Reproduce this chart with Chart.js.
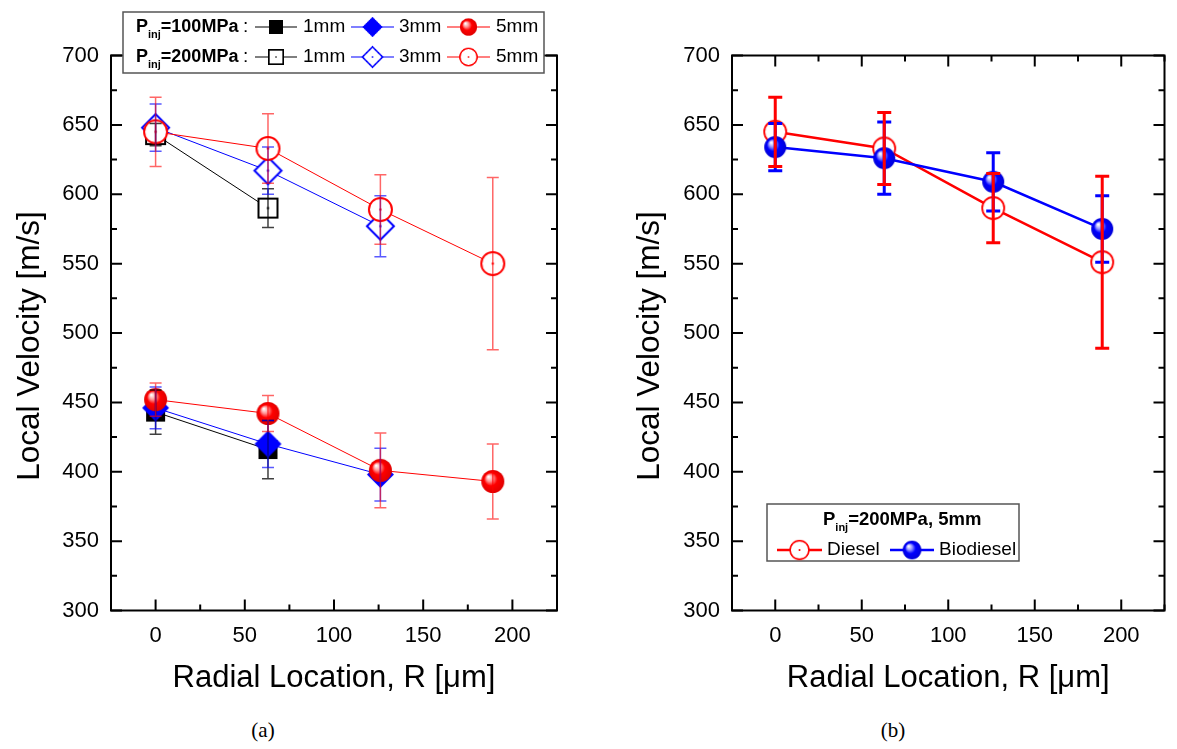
<!DOCTYPE html>
<html>
<head>
<meta charset="utf-8">
<script src="https://cdn.jsdelivr.net/npm/chart.js@4.4.1/dist/chart.umd.min.js"></script>
<style>
body { margin: 0; background: #fff; width: 1177px; height: 749px; position: relative; overflow: hidden; }
#wrapA { position: absolute; left: 0; top: 0; width: 590px; height: 700px; }
#wrapB { position: absolute; left: 620px; top: 0; width: 557px; height: 700px; }
.cap { position: absolute; top: 718px; transform: translateX(-50%); font-family: "Liberation Serif", "Times New Roman", serif; font-size: 21px; color: #000; }
</style>
</head>
<body>
<div id="wrapA"><canvas id="chartA" width="590" height="700"></canvas></div>
<div id="wrapB"><canvas id="chartB" width="557" height="700"></canvas></div>
<div class="cap" style="left:263px">(a)</div>
<div class="cap" style="left:893px">(b)</div>
<script>
// radial locations [um]
let radial = [0, 63, 126, 189];

// (a) Pinj = 100MPa
let p100_1mm = [443, 416];
let p100_1mm_err = [16, 21];
let p100_3mm = [446, 420, 398];
let p100_3mm_err = [15, 17, 19];
let p100_5mm = [452, 442, 401, 393];
let p100_5mm_err = [12, 13, 27, 27];

// (a) Pinj = 200MPa
let p200_1mm = [643, 590];
let p200_1mm_err = [8, 14];
let p200_3mm = [648, 617, 577];
let p200_3mm_err = [17, 17, 22];
let p200_5mm = [645, 633, 589, 550];
let p200_5mm_err = [25, 25, 25, 62];

// (b) Pinj = 200MPa, 5mm
let diesel = [645, 633, 590, 551];
let diesel_err = [25, 26, 25, 62];
let biodiesel = [634, 626, 609, 575];
let biodiesel_err = [17, 26, 21, 24];

let xTicks = [0, 50, 100, 150, 200];
let yTicks = [300, 350, 400, 450, 500, 550, 600, 650, 700];
let yTitle = 'Local Velocity [m/s]';

const FONT = '"Liberation Sans", Arial, sans-serif';
Chart.defaults.font.family = FONT;
Chart.defaults.color = '#000';

// marker images (used as pointStyle)
function makeMarker(shape, color, filled, size, lw) {
    let pad = 3;
    let c = document.createElement('canvas');
    c.width = c.height = Math.ceil(size + pad * 2);
    let g = c.getContext('2d');
    let m = c.width / 2, r = size / 2;
    g.beginPath();
    if (shape === 'square') {
        g.rect(m - r, m - r, size, size);
    } else if (shape === 'diamond') {
        g.moveTo(m, m - r); g.lineTo(m + r, m); g.lineTo(m, m + r); g.lineTo(m - r, m); g.closePath();
    } else {
        g.arc(m, m, r, 0, Math.PI * 2);
    }
    if (shape === 'sphere') {
        let grad = g.createRadialGradient(m - r * 0.38, m - r * 0.42, r * 0.04, m, m, r);
        grad.addColorStop(0, '#ffffff');
        grad.addColorStop(0.28, color === '#ff0000' ? '#ff9090' : '#9090ff');
        grad.addColorStop(0.55, color);
        grad.addColorStop(1, color === '#ff0000' ? '#e00000' : '#0000d8');
        g.fillStyle = grad;
        g.fill();
    } else if (filled) {
        g.fillStyle = color;
        g.fill();
    } else {
        g.fillStyle = '#fff';
        g.fill();
        g.lineWidth = lw || 1.5;
        g.strokeStyle = color;
        g.stroke();
        g.fillStyle = color;
        g.fillRect(m - 1, m - 1, 2, 2);
    }
    return c;
}

let mk = {
    sqFill: makeMarker('square', '#000000', true, 19),
    diaFill: makeMarker('diamond', '#0000ff', true, 27),
    sphRed: makeMarker('sphere', '#ff0000', true, 23),
    sqOpen: makeMarker('square', '#000000', false, 19, 2),
    diaOpen: makeMarker('diamond', '#0000ff', false, 27, 2),
    cirRed: makeMarker('circle', '#ff0000', false, 23, 2),
    cirRedB: makeMarker('circle', '#ff0000', false, 22, 1.8),
    sphBlue: makeMarker('sphere', '#0000ff', true, 22)
};

function pts(vals) {
    return vals.map((v, i) => ({ x: radial[i], y: v }));
}

function series(label, vals, errs, color, errColor, marker, order, width) {
    return {
        label: label,
        data: pts(vals),
        errors: errs,
        errColor: errColor,
        showLine: true,
        borderColor: color,
        borderWidth: width,
        backgroundColor: color,
        pointStyle: marker,
        pointRadius: 10,
        order: order
    };
}

// error bars, drawn on top of the markers
const errorBars = {
    id: 'errorBars',
    afterDatasetsDraw(chart, args, opts) {
        let ctx = chart.ctx, ys = chart.scales.y;
        chart.data.datasets.forEach((ds, di) => {
            let meta = chart.getDatasetMeta(di);
            ctx.save();
            ctx.strokeStyle = ds.errColor;
            ctx.lineWidth = opts.width;
            meta.data.forEach((pt, i) => {
                let v = ds.data[i].y, e = ds.errors[i];
                let top = ys.getPixelForValue(v + e), bot = ys.getPixelForValue(v - e);
                ctx.beginPath();
                ctx.moveTo(pt.x, top); ctx.lineTo(pt.x, bot);
                ctx.moveTo(pt.x - opts.cap, top); ctx.lineTo(pt.x + opts.cap, top);
                ctx.moveTo(pt.x - opts.cap, bot); ctx.lineTo(pt.x + opts.cap, bot);
                ctx.stroke();
            });
            ctx.restore();
        });
    }
};

// box frame with inward ticks on four sides, plus the y title
const frame = {
    id: 'frame',
    afterDraw(chart) {
        let ctx = chart.ctx, a = chart.chartArea, x = chart.scales.x, y = chart.scales.y;
        ctx.save();
        ctx.strokeStyle = '#000';
        ctx.lineWidth = 2;
        ctx.strokeRect(a.left, a.top, a.right - a.left, a.bottom - a.top);
        ctx.beginPath();
        for (let v = x.min; v <= x.max; v += 25) {
            let px = x.getPixelForValue(v), len = (v % 50 === 0) ? 11 : 6;
            ctx.moveTo(px, a.bottom); ctx.lineTo(px, a.bottom - len);
            ctx.moveTo(px, a.top); ctx.lineTo(px, a.top + len);
        }
        for (let v = y.min; v <= y.max; v += 25) {
            let py = y.getPixelForValue(v), len = (v % 50 === 0) ? 11 : 6;
            ctx.moveTo(a.left, py); ctx.lineTo(a.left + len, py);
            ctx.moveTo(a.right, py); ctx.lineTo(a.right - len, py);
        }
        ctx.stroke();
        // y axis title, a bit below the plot centre as in the original
        ctx.translate(30, (a.top + a.bottom) / 2 + 13);
        ctx.rotate(-Math.PI / 2);
        ctx.fillStyle = '#000';
        ctx.font = '31.5px ' + FONT;
        ctx.textAlign = 'center';
        ctx.textBaseline = 'middle';
        ctx.fillText(yTitle, 0, 0);
        ctx.restore();
    }
};

// "P" with "inj" subscript, then the rest; returns end x
function drawPinj(ctx, x, y, rest, size) {
    ctx.textBaseline = 'middle';
    ctx.textAlign = 'left';
    ctx.font = 'bold ' + size + 'px ' + FONT;
    ctx.fillText('P', x, y);
    x += ctx.measureText('P').width;
    ctx.font = 'bold ' + Math.round(size * 0.6) + 'px ' + FONT;
    ctx.fillText('inj', x, y + size * 0.42);
    x += ctx.measureText('inj').width;
    ctx.font = 'bold ' + size + 'px ' + FONT;
    ctx.fillText(rest, x, y);
    return x + ctx.measureText(rest).width;
}

function legendItem(ctx, x0, x1, y, color, lw, marker, scale) {
    ctx.strokeStyle = color;
    ctx.lineWidth = lw;
    ctx.beginPath();
    ctx.moveTo(x0, y); ctx.lineTo(x1, y);
    ctx.stroke();
    let w = marker.width * scale, h = marker.height * scale;
    ctx.drawImage(marker, (x0 + x1) / 2 - w / 2, y - h / 2, w, h);
}

const legendA = {
    id: 'legendA',
    afterDraw(chart) {
        let ctx = chart.ctx;
        ctx.save();
        ctx.fillStyle = '#fff';
        ctx.fillRect(123, 12, 421, 61);
        ctx.strokeStyle = '#555';
        ctx.lineWidth = 1.5;
        ctx.strokeRect(123, 12, 421, 61);
        let rows = [
            { text: '=100MPa', y: 27, m: [mk.sqFill, mk.diaFill, mk.sphRed] },
            { text: '=200MPa', y: 57, m: [mk.sqOpen, mk.diaOpen, mk.cirRed] }
        ];
        let colors = ['#000000', '#0000ff', '#ff0000'];
        let sizes = ['1mm', '3mm', '5mm'];
        let lineX = [[255, 297], [351, 394], [447, 490]];
        let textX = [303, 399, 496];
        rows.forEach(r => {
            ctx.fillStyle = '#000';
            drawPinj(ctx, 136, r.y, r.text, 18);
            ctx.font = '19px ' + FONT;
            ctx.fillText(':', 243, r.y);
            for (let i = 0; i < 3; i++) {
                legendItem(ctx, lineX[i][0], lineX[i][1], r.y, colors[i], 1.2, r.m[i], 0.75);
                ctx.fillStyle = '#000';
                ctx.font = '19px ' + FONT;
                ctx.textAlign = 'left';
                ctx.fillText(sizes[i], textX[i], r.y);
            }
        });
        ctx.restore();
    }
};

const legendB = {
    id: 'legendB',
    afterDraw(chart) {
        let ctx = chart.ctx;
        ctx.save();
        ctx.fillStyle = '#fff';
        ctx.fillRect(147, 504, 252, 57);
        ctx.strokeStyle = '#555';
        ctx.lineWidth = 1.5;
        ctx.strokeRect(147, 504, 252, 57);
        ctx.fillStyle = '#000';
        drawPinj(ctx, 203, 520, '=200MPa, 5mm', 18.5);
        legendItem(ctx, 157, 202, 550, '#ff0000', 2.5, mk.cirRedB, 0.85);
        legendItem(ctx, 270, 314, 550, '#0000ff', 2.5, mk.sphBlue, 0.85);
        ctx.fillStyle = '#000';
        ctx.font = '19px ' + FONT;
        ctx.textAlign = 'left';
        ctx.textBaseline = 'middle';
        ctx.fillText('Diesel', 207, 550);
        ctx.fillText('Biodiesel', 319, 550);
        ctx.restore();
    }
};

function axes(yWidth) {
    return {
        x: {
            type: 'linear', min: -25, max: 225,
            afterFit: s => { s.height = 89.5; },
            afterBuildTicks: s => { s.ticks = xTicks.map(v => ({ value: v })); },
            grid: { display: false, drawTicks: false },
            border: { display: false },
            ticks: { font: { size: 22 }, padding: 12, maxRotation: 0, autoSkip: false },
            title: { display: true, text: 'Radial Location, R [μm]', font: { size: 31 }, padding: { top: 0, bottom: 3 } }
        },
        y: {
            type: 'linear', min: 300, max: 700,
            afterFit: s => { s.width = yWidth; },
            afterBuildTicks: s => { s.ticks = yTicks.map(v => ({ value: v })); },
            grid: { display: false, drawTicks: false },
            border: { display: false },
            ticks: { font: { size: 22 }, padding: 12, autoSkip: false },
            title: { display: false }
        }
    };
}

// chart (a)
let ctxA = document.getElementById('chartA');
let configA = {
    type: 'scatter',
    data: {
        datasets: [
            series('100MPa 1mm', p100_1mm, p100_1mm_err, '#000000', 'rgba(0,0,0,0.75)', mk.sqFill, 3, 1),
            series('100MPa 3mm', p100_3mm, p100_3mm_err, '#0000ff', 'rgba(0,0,255,0.65)', mk.diaFill, 2, 1),
            series('100MPa 5mm', p100_5mm, p100_5mm_err, '#ff0000', 'rgba(255,0,0,0.6)', mk.sphRed, 1, 1),
            series('200MPa 1mm', p200_1mm, p200_1mm_err, '#000000', 'rgba(0,0,0,0.75)', mk.sqOpen, 3, 1),
            series('200MPa 3mm', p200_3mm, p200_3mm_err, '#0000ff', 'rgba(0,0,255,0.65)', mk.diaOpen, 2, 1),
            series('200MPa 5mm', p200_5mm, p200_5mm_err, '#ff0000', 'rgba(255,0,0,0.6)', mk.cirRed, 1, 1)
        ]
    },
    options: {
        responsive: false,
        animation: false,
        layout: { padding: { top: 55.5, right: 33, left: 0, bottom: 0 } },
        plugins: { legend: { display: false }, tooltip: { enabled: false }, errorBars: { width: 1.5, cap: 6 } },
        scales: axes(111)
    },
    plugins: [errorBars, frame, legendA]
};
let chartA = new Chart(ctxA, configA);

// chart (b)
let ctxB = document.getElementById('chartB');
let configB = {
    type: 'scatter',
    data: {
        datasets: [
            series('Biodiesel', biodiesel, biodiesel_err, '#0000ff', '#0000ff', mk.sphBlue, 1, 2.5),
            series('Diesel', diesel, diesel_err, '#ff0000', '#ff0000', mk.cirRedB, 2, 2.5)
        ]
    },
    options: {
        responsive: false,
        animation: false,
        layout: { padding: { top: 55.5, right: 2, left: 0, bottom: 0 } },
        plugins: { legend: { display: false }, tooltip: { enabled: false }, errorBars: { width: 3, cap: 7 } },
        scales: axes(112)
    },
    plugins: [errorBars, frame, legendB]
};
let chartB = new Chart(ctxB, configB);
</script>
</body>
</html>
